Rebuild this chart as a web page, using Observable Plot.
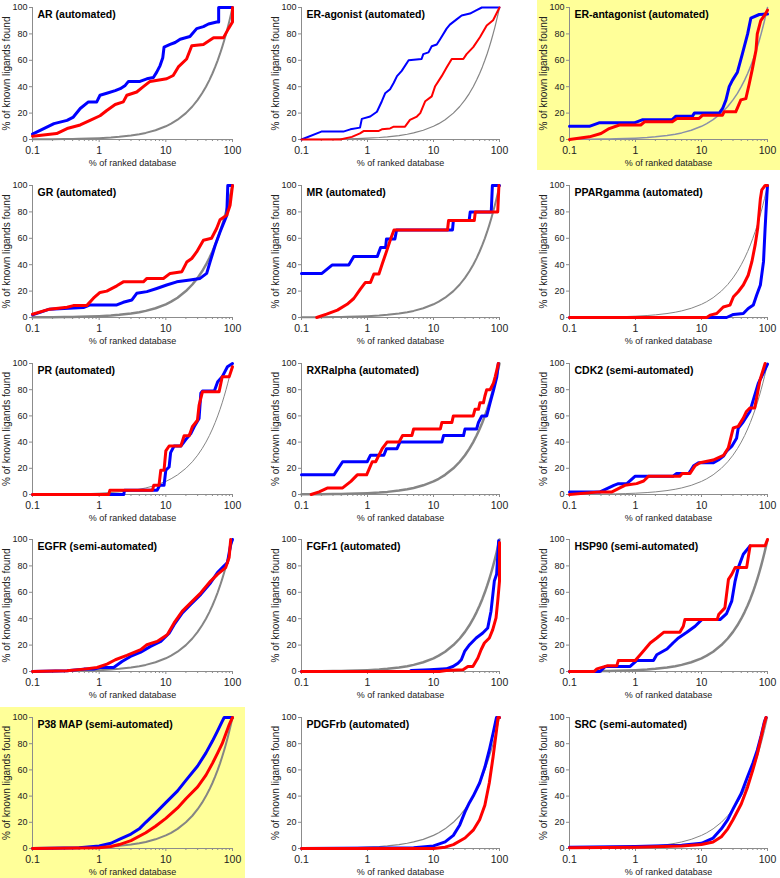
<!DOCTYPE html>
<html><head><meta charset="utf-8">
<script src="https://cdn.jsdelivr.net/npm/d3@7"></script>
<script src="https://cdn.jsdelivr.net/npm/@observablehq/plot@0.6"></script>
<style>
body{margin:0;background:#fff;}
#wrap{position:relative;width:780px;height:878px;overflow:hidden;background:#fff;font-family:"Liberation Sans",Arial,sans-serif;}
.panel{position:absolute;}
.yellow{position:absolute;background:#ffff99;}
</style></head><body><div id="wrap"></div>
<script>
// ---------- data ----------
const titles = ["AR (automated)","ER-agonist (automated)","ER-antagonist (automated)",
  "GR (automated)","MR (automated)","PPARgamma (automated)",
  "PR (automated)","RXRalpha (automated)","CDK2 (semi-automated)",
  "EGFR (semi-automated)","FGFr1 (automated)","HSP90 (semi-automated)",
  "P38 MAP (semi-automated)","PDGFrb (automated)","SRC (semi-automated)"];
const xTickLabels = [0.1, 1, 10, 100];
const xMinorTicks = [0.2,0.3,0.4,0.5,0.6,0.7,0.8,0.9,2,3,4,5,6,7,8,9,20,30,40,50,60,70,80,90];
const yTicks = [0, 20, 40, 60, 80, 100];
const yLabel = "% of known ligands found";
const xLabel = "% of ranked database";
// random-selection reference (gray curve)
const refX = [0.1,0.15,0.2,0.3,0.4,0.5,0.7,1,1.5,2,3,4,5,7,10,12,15,20,25,30,35,40,45,50,55,60,65,70,75,80,85,90,95,100];
const refY = [0.1,0.15,0.2,0.3,0.4,0.5,0.7,1,1.5,2,3,4,5,7,10,12,15,20,25,30,35,40,45,50,55,60,65,70,75,80,85,90,95,100];

const arBlue = [[0.1,4],[0.21,12],[0.33,14.5],[0.41,17],[0.52,23.5],[0.69,28.5],[0.92,28.5],[1.03,33.5],[1.3,35],[1.74,37],[2.07,38.5],[2.46,41],[2.75,44],[4.1,44],[5.2,46],[6.5,47],[7.3,51],[8.2,56],[9.0,62],[9.4,70],[11.6,72],[13.8,73.5],[16.4,76],[23,78],[29,84],[36.6,85.5],[43.6,87.5],[58,89],[62,89],[62,100],[100,100]];
const arRed = [[0.1,2.5],[0.23,4.5],[0.33,8.3],[0.52,11],[0.73,14.5],[1.03,18],[1.3,22],[1.74,26.5],[2.3,28.5],[2.6,33.5],[3.66,36],[4.6,40],[5.8,44],[10.3,46],[12.9,48.5],[15.4,55],[20.5,61],[24.5,71],[36.6,72],[52,77],[73,77],[87,84],[100,89],[100,100]];
const eraBlue = [[0.1,0],[0.2,6],[0.43,6],[0.55,7.7],[0.77,9],[0.82,15.6],[1.1,17.4],[1.39,21],[1.65,29],[1.85,35],[2.2,38],[2.5,43],[2.8,48],[3.3,52],[4.2,60],[6.6,61],[7.0,64.7],[8.4,66],[9.4,70.6],[11.2,72],[12.6,76],[15.8,84],[17.7,87],[22.4,91],[26.7,94],[35.7,95.4],[45,98],[54,100],[100,100]];
const eraRed = [[0.1,0],[0.385,0],[0.58,2],[0.77,4.6],[0.87,6.4],[1.46,6.4],[1.65,7.7],[2.2,8.4],[2.5,9.7],[3.7,9.7],[4.4,14.8],[5.6,17.4],[6.3,20],[7.5,29],[9.4,32.7],[10.6,40.4],[13.3,48],[15.8,54.5],[18.9,61],[28.3,61],[31.7,64.7],[40,70],[50.5,77.5],[64,86.4],[80,90.3],[100,100]];
const erantBlue = [[0.1,10],[0.2,10],[0.28,12.6],[0.96,12.6],[1.29,15],[3.6,15],[4.1,17.7],[7.3,17.7],[7.8,20],[18.6,20],[20.9,23.5],[23.5,30],[26.3,40],[29.5,45],[35,51],[41.7,65],[50,80],[56,92],[75,94.7],[100,95]];
const erantRed = [[0.1,0],[0.2,2],[0.3,4.5],[0.4,8.3],[0.57,11],[1.2,11],[1.37,13.4],[3.6,13.4],[4.3,16],[9.2,16],[10.4,18.4],[20.8,18.4],[22,21],[33,21],[39.5,30],[47,31],[53,42.4],[59,53.5],[67,67.7],[70,80],[79,90],[90,94],[100,98]];
const grBlue = [[0.1,2],[0.18,6.3],[0.58,7.5],[0.73,9.5],[1.84,9.5],[2.3,11.5],[3.1,13.3],[3.66,18.3],[5.2,19.6],[7.3,22],[10.3,24.6],[14.6,27],[23,28.4],[32.6,29.6],[41,33.4],[46,42],[55,54.7],[65,64.8],[82,77.4],[85,100],[100,100]];
const grRed = [[0.1,2.5],[0.18,6.3],[0.33,7.8],[0.41,9],[0.65,9],[0.82,14.6],[1.03,19],[1.3,20],[1.84,24],[2.3,27],[4.6,27],[5.2,29.6],[9.2,29.6],[11.6,33.4],[17.4,34.7],[20.6,42],[24.5,44.7],[29,49.7],[36.6,58.5],[48.5,60],[58,67.6],[65,74],[82,77.4],[92,85],[100,100]];
const mrBlue = [[0.1,33.4],[0.204,33.4],[0.29,39.7],[0.52,39.7],[0.62,46.3],[1.41,46.3],[1.58,53],[1.88,53],[1.94,59.5],[2.6,59.5],[2.76,66.3],[19.4,66.3],[20,73.4],[34.7,73.4],[36,80],[75,80],[78,100],[100,100]];
const mrRed = [[0.17,0],[0.24,2.5],[0.35,5.6],[0.49,10],[0.62,14.4],[0.78,21.5],[0.93,26.6],[1.11,26.6],[1.25,33],[1.49,33],[1.67,40.5],[2.0,52],[2.24,59.5],[2.52,66.3],[16.3,66.3],[16.9,73.4],[41.5,73.4],[43,80],[94,80],[98,100]];
const pparBlue = [[0.1,0],[24,0],[30.5,2.3],[43,3],[51,6.8],[61,9.4],[68.6,17],[78,24.6],[87,42.3],[92,67.6],[98,93],[100,100]];
const pparRed = [[0.1,0],[12,0],[13.5,1.8],[17,3],[21.4,8],[27,9.4],[30.5,15.7],[36,19.5],[43,24.6],[51,32],[58,42.3],[65,55],[71,67.6],[78,90],[82,96.7],[92,100],[100,100]];
const prBlue = [[0.1,0],[2.34,0],[2.4,3.3],[7.4,3.3],[8.1,7.1],[9.4,7.1],[10,18.6],[11.2,21],[11.8,32],[13.3,37],[16.8,37],[19.9,42],[23.7,46.6],[26.6,51.7],[31.5,58],[33.5,77.3],[35.4,79],[53.4,79],[60,86],[70,89.8],[84,97.5],[100,100]];
const prRed = [[0.1,0],[1.39,0],[1.45,3.3],[6.3,3.3],[6.6,7.1],[7.9,7.1],[8.4,18.6],[9.4,18.6],[10,33.3],[11.2,37],[16.8,37],[18.8,44.8],[22.4,44.8],[25,51.7],[29.8,56.7],[31.5,68],[35.4,78.4],[63,78.4],[70,89.8],[89,89.8],[100,97.5]];
const rxrBlue = [[0.1,15],[0.31,15],[0.42,25],[0.99,25],[1.11,30],[1.77,30],[1.94,35],[2.8,35],[3.1,40],[13.4,40],[14.2,45],[28.5,45],[30,50],[45,50],[48,55],[54,60],[64,60],[72,70],[81,79.5],[91,89.8],[96,100]];
const rxrRed = [[0.14,0],[0.185,2],[0.25,5],[0.42,5],[0.56,10],[0.7,15],[0.97,15],[1.18,25],[1.33,25],[1.67,35],[1.98,40],[3.0,40],[3.4,45],[4.7,45],[5.0,50],[12.7,50],[13.4,55],[19,55],[20,60],[40,60],[42.5,65],[48,65],[50.5,70],[57,70],[60,75],[64,80],[72,80],[81,85],[86,89.8],[96,100]];
const cdk2Blue = [[0.1,2],[0.29,2],[0.37,4.5],[0.47,7],[0.55,8.3],[0.74,8.3],[0.99,14],[3.7,14],[4.2,16],[6.4,16],[6.8,18],[7.6,22],[9.0,24.2],[15,24.2],[18,26.3],[21.5,29.3],[24,33],[28.8,36.9],[34,43],[36,50.5],[43,55.5],[54,63.4],[61,72.2],[72.5,84.8],[86,92.4],[100,99.5]];
const cdk2Red = [[0.1,0],[0.29,2],[0.44,2],[0.55,4.5],[0.69,7],[1.04,8.3],[1.33,10.3],[1.58,14],[4.7,14],[5.1,16],[6.7,16],[8,22],[9.5,24.2],[15,26.3],[21.5,29.8],[25.5,35.6],[30.3,50.8],[36,52],[43,58.3],[48,63.4],[54,66],[64,66],[77,87.4],[92,100]];
const egfrBlue = [[0.1,0],[0.33,0.5],[0.59,1.8],[0.83,1.8],[1.04,3],[1.65,3],[2.2,7.6],[2.95,11.4],[4.2,14.7],[5.9,19],[8.4,22.8],[11.2,29],[13.3,35.5],[17.7,44.4],[23.6,50.8],[33.5,58.4],[47,67.3],[59.5,74.9],[70.5,78.7],[84,82.5],[94,96.4],[100,100]];
const egfrRed = [[0.1,0],[0.33,0.5],[0.59,1.8],[0.93,3],[1.31,5.6],[1.75,8.9],[2.6,12.2],[4.2,16.5],[5.2,20.3],[7.4,22.8],[10.5,27.9],[13.3,36.8],[17.7,45.7],[23.6,52],[33.5,59.6],[47,68.5],[59.5,73.6],[79,78.7],[89,86.3],[94,100]];
const fgfr1Blue = [[0.1,0],[4.4,0],[4.6,0.8],[8.8,1.3],[15.6,2],[19.7,3.8],[23.5,6.3],[26.4,8.9],[29.6,15.2],[35.2,20.3],[44.3,25.4],[55.8,29.2],[66.3,33],[74.4,45.7],[83.5,68.5],[90.5,73.6],[97,99]];
const fgfr1Red = [[0.1,0],[12.3,0],[15.6,0.8],[28,1.3],[33.2,3.8],[39.5,3.8],[47,10.2],[52.6,16.5],[59,21.6],[70.2,25.4],[79,31.7],[88.6,40.6],[94,53.3],[100,68.5],[100,97.7]];
const hsp90Blue = [[0.1,0],[0.29,0],[0.35,3.8],[0.83,3.8],[1.05,8.4],[1.87,8.4],[2.1,12.7],[3.0,17],[3.7,21.6],[4.47,25.4],[6.0,29.7],[8.0,34.3],[10.1,39.3],[19.1,39.3],[24,43.9],[28.7,53.3],[32.3,68.5],[36.1,78.7],[43,88.8],[54.5,95.2]];
const hsp90Red = [[0.1,0],[0.236,0],[0.26,2],[0.37,4.3],[0.52,4.3],[0.55,8.4],[0.99,8.4],[1.18,12.7],[1.4,17],[1.67,21.6],[2.1,25.4],[2.67,29.7],[4.7,29.7],[5.3,34.3],[5.6,39.3],[17.3,39.3],[18.2,43.1],[22.6,48.2],[25.6,69.8],[28.7,73.6],[32.3,78.7],[48.3,78.7],[54.5,95.2],[92,95.2],[100,100]];
const p38Blue = [[0.1,0],[0.5,0.5],[1,2],[1.5,4],[2,7],[3,11],[4,15],[5,20],[7,27],[10,35],[15,44],[20,52],[30,63],[40,73],[50,82],[60,90],[70,97],[75,100],[100,100]];
const p38Red = [[0.1,0],[1,0.5],[1.5,1.5],[2,3],[3,6],[5,12],[7,17],[10,23],[15,31],[20,38],[30,47],[40,56],[50,65],[60,73],[70,80],[80,88],[90,95],[100,100]];
const pdgfrbBlue = [[0.1,0],[5,0.5],[10,2],[15,5],[20,10],[25,18],[30,28],[35,35],[40,40],[50,50],[60,62],[70,75],[80,88],[90,100],[100,100]];
const pdgfrbRed = [[0.1,0],[10,0],[15,1],[20,3],[30,8],[40,14],[50,22],[60,33],[70,50],[80,70],[90,90],[95,100],[100,100]];
const srcBlue = [[0.1,1],[1,1.5],[5,2.5],[10,4],[15,8],[20,15],[25,22],[30,30],[40,42],[50,55],[60,65],[70,75],[80,86],[90,97],[95,100]];
const srcRed = [[0.1,0.5],[1,1],[5,2],[10,3],[15,5],[20,9],[25,15],[30,22],[40,34],[50,47],[60,60],[70,72],[80,85],[90,96],[95,100]];

const blues = [arBlue, eraBlue, erantBlue, grBlue, mrBlue, pparBlue, prBlue, rxrBlue, cdk2Blue, egfrBlue, fgfr1Blue, hsp90Blue, p38Blue, pdgfrbBlue, srcBlue];
const reds = [arRed, eraRed, erantRed, grRed, mrRed, pparRed, prRed, rxrRed, cdk2Red, egfrRed, fgfr1Red, hsp90Red, p38Red, pdgfrbRed, srcRed];

// ---------- styles / layout ----------
const grayWidths = [2, 1.2, 1.5, 2.5, 2, 1, 1, 2.5, 1, 2, 2.5, 2.5, 2, 1.2, 1];
const lineWidths = [3, 2, 3, 3, 3, 3, 3, 3, 3, 3, 3, 3, 3, 3, 3];
const colGeom = [{left:0,x0:32,x1:232},{left:260,x0:301,x1:499},{left:520,x0:569,x1:767}];
const rowGeom = [[7,139],[185,317],[363,494],[539,671],[717,848]];
const yellowBoxes = [{x:537,y:0,w:243,h:170},{x:0,y:707,w:245,h:171}];
const yellowPanels = [2, 12];

const wrap = document.getElementById("wrap");
for (const b of yellowBoxes) {
  const d = document.createElement("div");
  d.className = "yellow";
  Object.assign(d.style, {left:b.x+"px", top:b.y+"px", width:b.w+"px", height:b.h+"px"});
  wrap.appendChild(d);
}
const ref = refX.map((x, i) => ({x, y: refY[i]}));
const font = "Liberation Sans, Arial, sans-serif";
const axisColor = "#8c8c8c";
const textColor = "#222";

titles.forEach((title, i) => {
  const c = colGeom[i % 3], r = rowGeom[Math.floor(i / 3)];
  const mt = 8, mb = 32;
  const h = mt + (r[1] - r[0]) + mb;
  const gray = yellowPanels.includes(i) && i === 2 ? "#8a90a8" : "#858585";
  const chart = Plot.plot({
    width: 260, height: h,
    marginLeft: c.x0 - c.left, marginRight: 260 - (c.x1 - c.left),
    marginTop: mt, marginBottom: mb,
    style: {background: "transparent", fontFamily: font, overflow: "visible"},
    x: {type: "log", domain: [0.1, 100]},
    y: {domain: [0, 100]},
    marks: [
      Plot.axisY({ticks: yTicks, tickSize: 3, tickPadding: 2, fontSize: 9, label: null, stroke: axisColor, fill: textColor}),
      Plot.axisX({ticks: xMinorTicks, tickSize: 2, tickFormat: () => "", label: null, stroke: axisColor}),
      Plot.axisX({ticks: xTickLabels, tickSize: 3, tickPadding: 4, fontSize: 10.5, label: null, tickFormat: d => String(d), stroke: axisColor, fill: textColor}),
      Plot.ruleX([0.1], {y1: 0, y2: 100, stroke: axisColor}),
      Plot.ruleY([0], {x1: 0.1, x2: 100, stroke: axisColor}),
      Plot.line(ref, {x: "x", y: "y", stroke: gray, strokeWidth: grayWidths[i]}),
      Plot.line(blues[i], {x: d => d[0], y: d => d[1], stroke: "#0000ff", strokeWidth: lineWidths[i]}),
      Plot.line(reds[i], {x: d => d[0], y: d => d[1], stroke: "#ff0000", strokeWidth: lineWidths[i]}),
      Plot.text([title], {frameAnchor: "top-left", textAnchor: "start", lineAnchor: "top", dx: 5, dy: 3, fontSize: 10.5, fontWeight: "bold", fill: "#000"}),
      Plot.text([yLabel], {frameAnchor: "left", dx: -26, rotate: -90, textAnchor: "middle", lineAnchor: "middle", fontSize: 10, fill: textColor}),
      Plot.text([xLabel], {frameAnchor: "bottom", dy: 24, textAnchor: "middle", lineAnchor: "middle", fontSize: 9, fill: textColor})
    ]
  });
  chart.classList.add("panel");
  chart.style.position = "absolute";
  chart.style.left = c.left + "px";
  chart.style.top = (r[0] - mt) + "px";
  wrap.appendChild(chart);
});
</script></body></html>
